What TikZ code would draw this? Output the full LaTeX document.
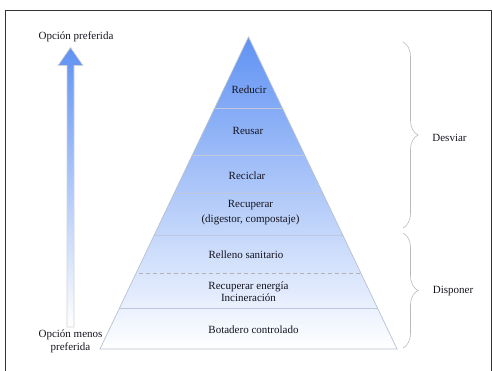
\documentclass[tikz,border=0pt]{standalone}
\usepackage{fontspec}
\setmainfont{Liberation Serif}
\usetikzlibrary{decorations.pathreplacing}
\definecolor{topblue}{RGB}{96,146,243}
\definecolor{layerline}{RGB}{190,200,218}
\definecolor{txt}{RGB}{20,20,30}
\tikzset{
  lbl/.style={font=\fontsize{11}{13}\selectfont, text=txt, inner sep=0pt, align=center},
  bracestyle/.style={draw=gray!55, line width=0.6pt, decorate, decoration={brace, amplitude=15pt}},
  layer/.style={draw=layerline, line width=0.7pt}
}
\begin{document}
\begin{tikzpicture}[x=1pt,y=-1pt]
\useasboundingbox (0,0) rectangle (493,371);
% frame
\draw[line width=0.8pt, black!80] (5,375) -- (5,10) -- (491.5,10) -- (491.5,375);
% pyramid
\coordinate (apex) at (248.5,37);
\coordinate (bl) at (100,349);
\coordinate (br) at (397,349);
\path[top color=topblue, bottom color=white] (apex) -- (br) -- (bl) -- cycle;
\begin{scope}
\clip (apex) -- (br) -- (bl) -- cycle;
\draw[layer] (90,108) -- (410,108);
\draw[layer] (90,155) -- (410,155);
\draw[layer] (90,193) -- (410,193);
\draw[layer] (90,235) -- (410,235);
\draw[layer, draw=gray!60, dash pattern=on 4pt off 3pt] (90,273) -- (410,273);
\draw[layer] (90,308) -- (410,308);
\end{scope}
\draw[draw=layerline!90!gray, line width=0.7pt] (apex) -- (br) -- (bl) -- cycle;
% layer labels
\node[lbl] (reducir) at (249,90) {Reducir};
\node[lbl] (reusar) at (248,131) {Reusar};
\node[lbl] (reciclar) at (247,176) {Reciclar};
\node[lbl, align=center] (recuperar) at (250.5,212.5) {Recuperar\\[1.5pt](digestor, compostaje)};
\node[lbl] (relleno) at (246,255) {Relleno sanitario};
\node[lbl, font=\fontsize{11}{12}\selectfont] (energia) at (248.5,291.5) {Recuperar energía\\Incineración};
\node[lbl] (botadero) at (253.5,329.5) {Botadero controlado};
% arrow
\path[top color=topblue, bottom color=white, draw=gray!35, line width=0.6pt]
  (70.5,47.5) -- (83,65.5) -- (74,65.5) -- (74,327) -- (67,327) -- (67,65.5) -- (58,65.5) -- cycle;
\node[lbl] (pref) at (76,37) {Opción preferida};
\node[lbl] (menos) at (70.5,341.5) {Opción menos\\preferida};
% braces
\coordinate (d1) at (403,42);
\coordinate (d2) at (403,228);
\coordinate (p1) at (403,233);
\coordinate (p2) at (403,348);
\draw[bracestyle] (d1) -- (d2);
\draw[bracestyle] (p1) -- (p2);
\node[lbl] (desviar) at (449.5,138) {Desviar};
\node[lbl] (disponer) at (453,291) {Disponer};
\end{tikzpicture}
\end{document}
